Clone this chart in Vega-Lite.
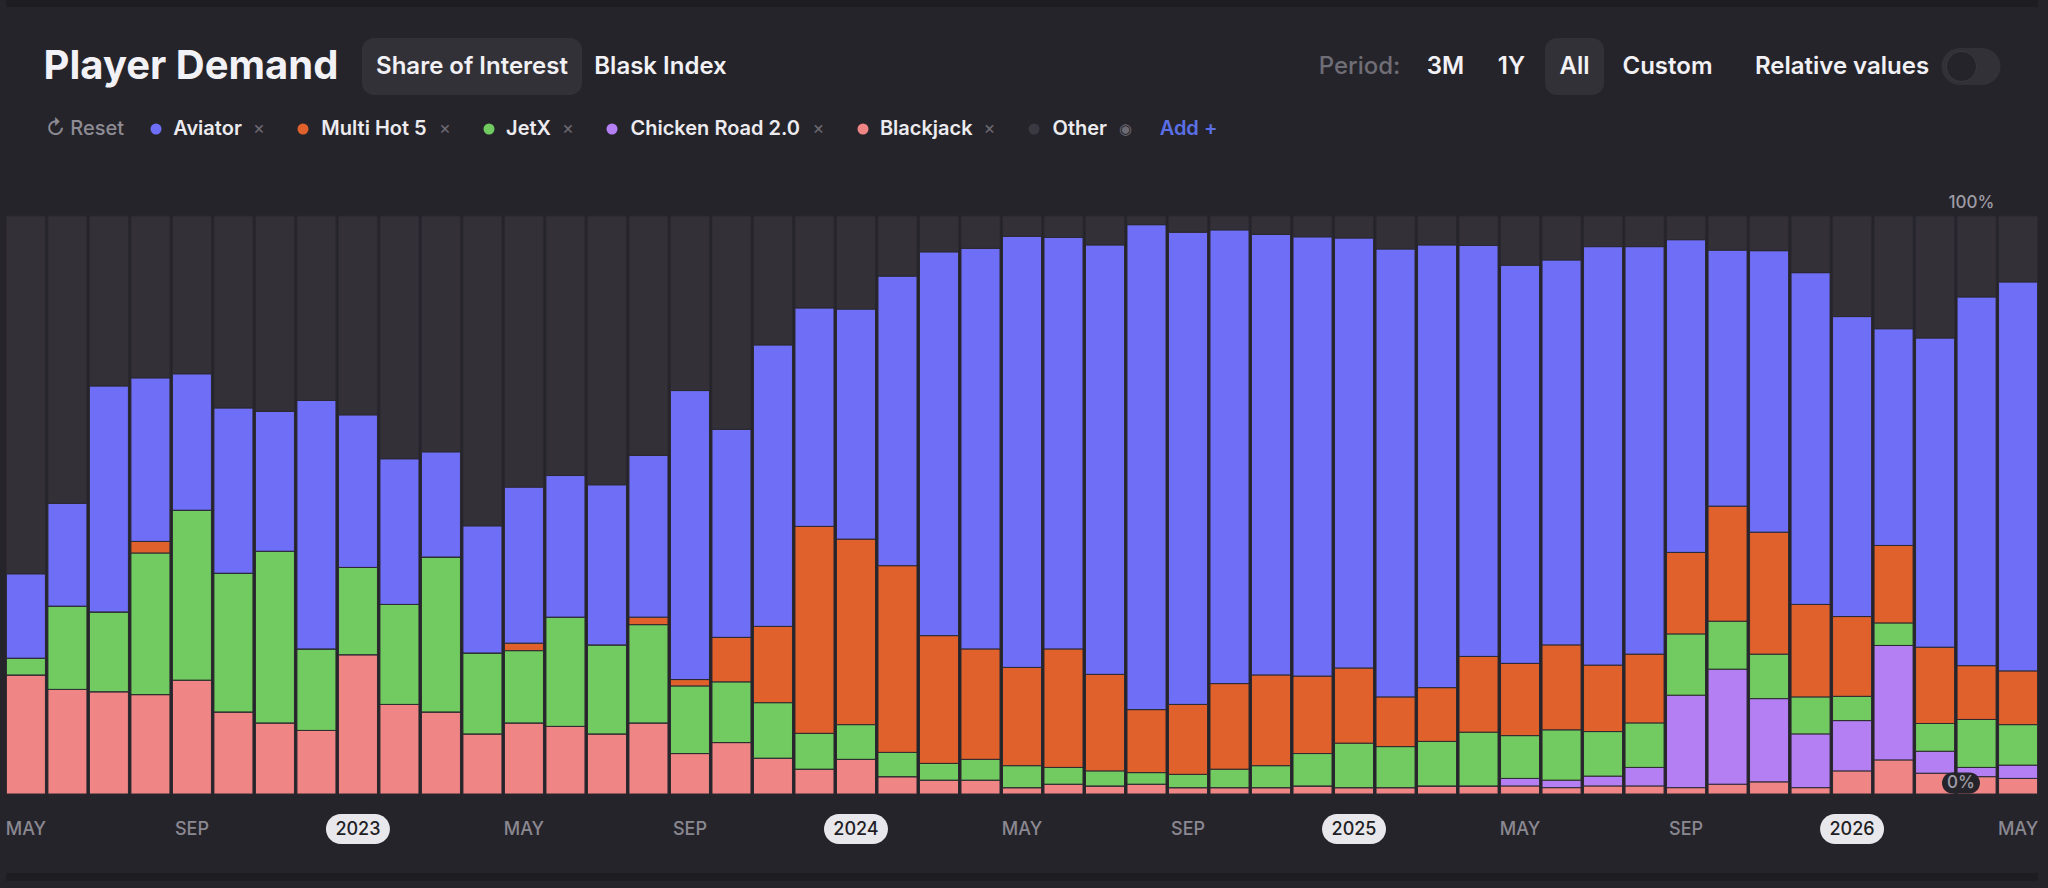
{
  "$schema": "https://vega.github.io/schema/vega-lite/v6.json",
  "background": "#26242b",
  "padding": {"left": 5, "top": 0, "right": 11, "bottom": 0},
  "spacing": 0,
  "config": {
    "view": {"stroke": null},
    "font": "Inter",
    "text": {"font": "Inter", "baseline": "middle", "align": "center"}
  },
  "datasets": {
    "share": [
      {"m": "2022-05", "Blackjack": 20.6, "Chicken Road 2.0": 0, "JetX": 2.9, "Multi Hot 5": 0, "Aviator": 14.6, "Other": 61.9},
      {"m": "2022-06", "Blackjack": 18.1, "Chicken Road 2.0": 0, "JetX": 14.4, "Multi Hot 5": 0, "Aviator": 17.8, "Other": 49.7},
      {"m": "2022-07", "Blackjack": 17.7, "Chicken Road 2.0": 0, "JetX": 13.8, "Multi Hot 5": 0, "Aviator": 39.1, "Other": 29.4},
      {"m": "2022-08", "Blackjack": 17.2, "Chicken Road 2.0": 0, "JetX": 24.5, "Multi Hot 5": 2.0, "Aviator": 28.3, "Other": 28.0},
      {"m": "2022-09", "Blackjack": 19.7, "Chicken Road 2.0": 0, "JetX": 29.4, "Multi Hot 5": 0, "Aviator": 23.6, "Other": 27.3},
      {"m": "2022-10", "Blackjack": 14.2, "Chicken Road 2.0": 0, "JetX": 24.0, "Multi Hot 5": 0, "Aviator": 28.6, "Other": 33.2},
      {"m": "2022-11", "Blackjack": 12.3, "Chicken Road 2.0": 0, "JetX": 29.7, "Multi Hot 5": 0, "Aviator": 24.2, "Other": 33.8},
      {"m": "2022-12", "Blackjack": 11.0, "Chicken Road 2.0": 0, "JetX": 14.1, "Multi Hot 5": 0, "Aviator": 43.0, "Other": 31.9},
      {"m": "2023-01", "Blackjack": 24.1, "Chicken Road 2.0": 0, "JetX": 15.1, "Multi Hot 5": 0, "Aviator": 26.4, "Other": 34.4},
      {"m": "2023-02", "Blackjack": 15.5, "Chicken Road 2.0": 0, "JetX": 17.3, "Multi Hot 5": 0, "Aviator": 25.2, "Other": 42.0},
      {"m": "2023-03", "Blackjack": 14.2, "Chicken Road 2.0": 0, "JetX": 26.8, "Multi Hot 5": 0, "Aviator": 18.2, "Other": 40.8},
      {"m": "2023-04", "Blackjack": 10.4, "Chicken Road 2.0": 0, "JetX": 14.0, "Multi Hot 5": 0, "Aviator": 22.0, "Other": 53.6},
      {"m": "2023-05", "Blackjack": 12.3, "Chicken Road 2.0": 0, "JetX": 12.5, "Multi Hot 5": 1.3, "Aviator": 27.0, "Other": 46.9},
      {"m": "2023-06", "Blackjack": 11.7, "Chicken Road 2.0": 0, "JetX": 18.9, "Multi Hot 5": 0, "Aviator": 24.5, "Other": 44.9},
      {"m": "2023-07", "Blackjack": 10.4, "Chicken Road 2.0": 0, "JetX": 15.4, "Multi Hot 5": 0, "Aviator": 27.7, "Other": 46.5},
      {"m": "2023-08", "Blackjack": 12.3, "Chicken Road 2.0": 0, "JetX": 17.0, "Multi Hot 5": 1.3, "Aviator": 28.0, "Other": 41.4},
      {"m": "2023-09", "Blackjack": 7.0, "Chicken Road 2.0": 0, "JetX": 11.7, "Multi Hot 5": 1.1, "Aviator": 50.0, "Other": 30.2},
      {"m": "2023-10", "Blackjack": 8.9, "Chicken Road 2.0": 0, "JetX": 10.5, "Multi Hot 5": 7.7, "Aviator": 36.0, "Other": 36.9},
      {"m": "2023-11", "Blackjack": 6.2, "Chicken Road 2.0": 0, "JetX": 9.6, "Multi Hot 5": 13.2, "Aviator": 48.7, "Other": 22.3},
      {"m": "2023-12", "Blackjack": 4.3, "Chicken Road 2.0": 0, "JetX": 6.2, "Multi Hot 5": 35.8, "Aviator": 37.8, "Other": 15.9},
      {"m": "2024-01", "Blackjack": 6.0, "Chicken Road 2.0": 0, "JetX": 6.0, "Multi Hot 5": 32.1, "Aviator": 39.8, "Other": 16.1},
      {"m": "2024-02", "Blackjack": 3.0, "Chicken Road 2.0": 0, "JetX": 4.2, "Multi Hot 5": 32.3, "Aviator": 50.1, "Other": 10.4},
      {"m": "2024-03", "Blackjack": 2.4, "Chicken Road 2.0": 0, "JetX": 2.9, "Multi Hot 5": 22.1, "Aviator": 66.4, "Other": 6.2},
      {"m": "2024-04", "Blackjack": 2.4, "Chicken Road 2.0": 0, "JetX": 3.6, "Multi Hot 5": 19.1, "Aviator": 69.3, "Other": 5.6},
      {"m": "2024-05", "Blackjack": 1.1, "Chicken Road 2.0": 0, "JetX": 3.8, "Multi Hot 5": 17.0, "Aviator": 74.6, "Other": 3.5},
      {"m": "2024-06", "Blackjack": 1.7, "Chicken Road 2.0": 0, "JetX": 2.9, "Multi Hot 5": 20.5, "Aviator": 71.2, "Other": 3.7},
      {"m": "2024-07", "Blackjack": 1.4, "Chicken Road 2.0": 0, "JetX": 2.6, "Multi Hot 5": 16.7, "Aviator": 74.3, "Other": 5.0},
      {"m": "2024-08", "Blackjack": 1.7, "Chicken Road 2.0": 0, "JetX": 2.0, "Multi Hot 5": 10.9, "Aviator": 83.9, "Other": 1.5},
      {"m": "2024-09", "Blackjack": 1.1, "Chicken Road 2.0": 0, "JetX": 2.3, "Multi Hot 5": 12.1, "Aviator": 81.7, "Other": 2.8},
      {"m": "2024-10", "Blackjack": 1.1, "Chicken Road 2.0": 0, "JetX": 3.2, "Multi Hot 5": 14.8, "Aviator": 78.5, "Other": 2.4},
      {"m": "2024-11", "Blackjack": 1.1, "Chicken Road 2.0": 0, "JetX": 3.8, "Multi Hot 5": 15.7, "Aviator": 76.2, "Other": 3.2},
      {"m": "2024-12", "Blackjack": 1.4, "Chicken Road 2.0": 0, "JetX": 5.6, "Multi Hot 5": 13.4, "Aviator": 76.0, "Other": 3.6},
      {"m": "2025-01", "Blackjack": 1.1, "Chicken Road 2.0": 0, "JetX": 7.7, "Multi Hot 5": 13.0, "Aviator": 74.4, "Other": 3.8},
      {"m": "2025-02", "Blackjack": 1.1, "Chicken Road 2.0": 0, "JetX": 7.1, "Multi Hot 5": 8.6, "Aviator": 77.5, "Other": 5.7},
      {"m": "2025-03", "Blackjack": 1.4, "Chicken Road 2.0": 0, "JetX": 7.7, "Multi Hot 5": 9.3, "Aviator": 76.6, "Other": 5.0},
      {"m": "2025-04", "Blackjack": 1.4, "Chicken Road 2.0": 0, "JetX": 9.3, "Multi Hot 5": 13.1, "Aviator": 71.1, "Other": 5.1},
      {"m": "2025-05", "Blackjack": 1.4, "Chicken Road 2.0": 1.3, "JetX": 7.4, "Multi Hot 5": 12.5, "Aviator": 68.9, "Other": 8.5},
      {"m": "2025-06", "Blackjack": 1.1, "Chicken Road 2.0": 1.3, "JetX": 8.7, "Multi Hot 5": 14.7, "Aviator": 66.6, "Other": 7.6},
      {"m": "2025-07", "Blackjack": 1.4, "Chicken Road 2.0": 1.7, "JetX": 7.7, "Multi Hot 5": 11.5, "Aviator": 72.4, "Other": 5.3},
      {"m": "2025-08", "Blackjack": 1.4, "Chicken Road 2.0": 3.2, "JetX": 7.7, "Multi Hot 5": 11.9, "Aviator": 70.5, "Other": 5.3},
      {"m": "2025-09", "Blackjack": 1.1, "Chicken Road 2.0": 16.0, "JetX": 10.6, "Multi Hot 5": 14.1, "Aviator": 54.1, "Other": 4.1},
      {"m": "2025-10", "Blackjack": 1.7, "Chicken Road 2.0": 19.9, "JetX": 8.3, "Multi Hot 5": 19.9, "Aviator": 44.3, "Other": 5.9},
      {"m": "2025-11", "Blackjack": 2.1, "Chicken Road 2.0": 14.4, "JetX": 7.7, "Multi Hot 5": 21.1, "Aviator": 48.7, "Other": 6.0},
      {"m": "2025-12", "Blackjack": 1.1, "Chicken Road 2.0": 9.3, "JetX": 6.4, "Multi Hot 5": 16.0, "Aviator": 57.4, "Other": 9.8},
      {"m": "2026-01", "Blackjack": 4.0, "Chicken Road 2.0": 8.7, "JetX": 4.2, "Multi Hot 5": 13.8, "Aviator": 51.9, "Other": 17.4},
      {"m": "2026-02", "Blackjack": 5.9, "Chicken Road 2.0": 19.8, "JetX": 3.9, "Multi Hot 5": 13.4, "Aviator": 37.5, "Other": 19.5},
      {"m": "2026-03", "Blackjack": 3.6, "Chicken Road 2.0": 3.8, "JetX": 4.8, "Multi Hot 5": 13.2, "Aviator": 53.5, "Other": 21.1},
      {"m": "2026-04", "Blackjack": 3.0, "Chicken Road 2.0": 1.6, "JetX": 8.3, "Multi Hot 5": 9.3, "Aviator": 63.8, "Other": 14.0},
      {"m": "2026-05", "Blackjack": 2.7, "Chicken Road 2.0": 2.3, "JetX": 7.0, "Multi Hot 5": 9.3, "Aviator": 67.3, "Other": 11.4}
    ]
  },
  "vconcat": [
    {"width": 2032, "height": 7, "view": {"fill": "#1e1d22", "stroke": null}, "data": {"values": []}, "mark": "text"},
    {"width": 10, "height": 31, "data": {"values": []}, "mark": "text"},
    {
      "hconcat": [
        {"width": 38, "height": 57, "data": {"values": []}, "mark": "text"},
        {"width": 294, "height": 57, "data": {"values": [{}]}, "mark": {"type": "text", "text": "Player Demand", "fontSize": 40, "fontWeight": 700, "color": "#f2f1f5"}},
        {"width": 24, "height": 57, "data": {"values": []}, "mark": "text"},
        {"width": 220, "height": 57, "view": {"fill": "#333138", "cornerRadius": 12, "stroke": null}, "data": {"values": [{}]}, "mark": {"type": "text", "text": "Share of Interest", "fontSize": 24, "fontWeight": 600, "color": "#f2f1f5"}},
        {"width": 13, "height": 57, "data": {"values": []}, "mark": "text"},
        {"width": 131, "height": 57, "data": {"values": [{}]}, "mark": {"type": "text", "text": "Blask Index", "fontSize": 24, "fontWeight": 600, "color": "#f2f1f5"}},
        {"width": 594, "height": 57, "data": {"values": []}, "mark": "text"},
        {"width": 79, "height": 57, "data": {"values": [{}]}, "mark": {"type": "text", "text": "Period:", "fontSize": 24, "fontWeight": 500, "color": "#6f6d75"}},
        {"width": 28, "height": 57, "data": {"values": []}, "mark": "text"},
        {"width": 37, "height": 57, "data": {"values": [{}]}, "mark": {"type": "text", "text": "3M", "fontSize": 24, "fontWeight": 600, "color": "#f2f1f5"}},
        {"width": 36, "height": 57, "data": {"values": []}, "mark": "text"},
        {"width": 23, "height": 57, "data": {"values": [{}]}, "mark": {"type": "text", "text": "1Y", "fontSize": 24, "fontWeight": 600, "color": "#f2f1f5"}},
        {"width": 22, "height": 57, "data": {"values": []}, "mark": "text"},
        {"width": 59, "height": 57, "view": {"fill": "#333138", "cornerRadius": 12, "stroke": null}, "data": {"values": [{}]}, "mark": {"type": "text", "text": "All", "fontSize": 24, "fontWeight": 600, "color": "#f2f1f5"}},
        {"width": 19, "height": 57, "data": {"values": []}, "mark": "text"},
        {"width": 89, "height": 57, "data": {"values": [{}]}, "mark": {"type": "text", "text": "Custom", "fontSize": 24, "fontWeight": 600, "color": "#f2f1f5"}},
        {"width": 44, "height": 57, "data": {"values": []}, "mark": "text"},
        {"width": 172, "height": 57, "data": {"values": [{}]}, "mark": {"type": "text", "text": "Relative values", "fontSize": 24, "fontWeight": 600, "color": "#f2f1f5"}},
        {"width": 13, "height": 57, "data": {"values": []}, "mark": "text"},
        {
          "width": 60, "height": 57, "data": {"values": [{}]},
          "layer": [
            {"mark": {"type": "point", "shape": "M-0.367,-0.617 L0.367,-0.617 A0.617,0.617 0 0 1 0.367,0.617 L-0.367,0.617 A0.617,0.617 0 0 1 -0.367,-0.617 Z", "size": 3600, "filled": true, "fill": "#333138", "opacity": 1, "strokeWidth": 0}},
            {"mark": {"type": "point", "shape": "M-0.817,0 A0.5,0.5 0 1 0 0.183,0 A0.5,0.5 0 1 0 -0.817,0 Z", "size": 3600, "filled": true, "fill": "#26242b", "opacity": 1, "stroke": "#3a3840", "strokeWidth": 1}}
          ]
        }
      ],
      "spacing": 0,
      "bounds": "flush"
    },
    {
      "hconcat": [
        {"width": 39, "height": 68, "data": {"values": []}, "mark": "text"},
        {"width": 80, "height": 68, "data": {"values": [{}]}, "mark": {"type": "text", "text": "↻ Reset", "fontSize": 20, "fontWeight": 500, "color": "#8e8c94"}},
        {"width": 31, "height": 68, "data": {"values": []}, "mark": "text"},
        {
          "width": 103, "height": 68, "data": {"values": [{}]},
          "layer": [
            {"mark": {"type": "circle", "size": 121, "color": "#6e6ef6", "opacity": 1}, "encoding": {"x": {"datum": "dot", "type": "nominal", "scale": {"type": "point", "domain": ["dot", "label", "x"], "padding": 0}, "axis": null}}},
            {"mark": {"type": "text", "text": "Aviator", "fontSize": 20, "fontWeight": 600, "color": "#ecebef"}, "encoding": {"x": {"datum": "label", "type": "nominal"}}},
            {"mark": {"type": "text", "text": "×", "fontSize": 18, "color": "#6c6a72"}, "encoding": {"x": {"datum": "x", "type": "nominal"}}}
          ]
        },
        {"width": 44, "height": 68, "data": {"values": []}, "mark": "text"},
        {
          "width": 142, "height": 68, "data": {"values": [{}]},
          "layer": [
            {"mark": {"type": "circle", "size": 121, "color": "#e0612b", "opacity": 1}, "encoding": {"x": {"datum": "dot", "type": "nominal", "scale": {"type": "point", "domain": ["dot", "label", "x"], "padding": 0}, "axis": null}}},
            {"mark": {"type": "text", "text": "Multi Hot 5", "fontSize": 20, "fontWeight": 600, "color": "#ecebef"}, "encoding": {"x": {"datum": "label", "type": "nominal"}}},
            {"mark": {"type": "text", "text": "×", "fontSize": 18, "color": "#6c6a72"}, "encoding": {"x": {"datum": "x", "type": "nominal"}}}
          ]
        },
        {"width": 44, "height": 68, "data": {"values": []}, "mark": "text"},
        {
          "width": 79, "height": 68, "data": {"values": [{}]},
          "layer": [
            {"mark": {"type": "circle", "size": 121, "color": "#72cb60", "opacity": 1}, "encoding": {"x": {"datum": "dot", "type": "nominal", "scale": {"type": "point", "domain": ["dot", "label", "x"], "padding": 0}, "axis": null}}},
            {"mark": {"type": "text", "text": "JetX", "fontSize": 20, "fontWeight": 600, "color": "#ecebef"}, "encoding": {"x": {"datum": "label", "type": "nominal"}}},
            {"mark": {"type": "text", "text": "×", "fontSize": 18, "color": "#6c6a72"}, "encoding": {"x": {"datum": "x", "type": "nominal"}}}
          ]
        },
        {"width": 44, "height": 68, "data": {"values": []}, "mark": "text"},
        {
          "width": 206.5, "height": 68, "data": {"values": [{}]},
          "layer": [
            {"mark": {"type": "circle", "size": 121, "color": "#b57ff4", "opacity": 1}, "encoding": {"x": {"datum": "dot", "type": "nominal", "scale": {"type": "point", "domain": ["dot", "label", "x"], "padding": 0}, "axis": null}}},
            {"mark": {"type": "text", "text": "Chicken Road 2.0", "fontSize": 20, "fontWeight": 600, "color": "#ecebef"}, "encoding": {"x": {"datum": "label", "type": "nominal"}}},
            {"mark": {"type": "text", "text": "×", "fontSize": 18, "color": "#6c6a72"}, "encoding": {"x": {"datum": "x", "type": "nominal"}}}
          ]
        },
        {"width": 44, "height": 68, "data": {"values": []}, "mark": "text"},
        {
          "width": 126.5, "height": 68, "data": {"values": [{}]},
          "layer": [
            {"mark": {"type": "circle", "size": 121, "color": "#ef8585", "opacity": 1}, "encoding": {"x": {"datum": "dot", "type": "nominal", "scale": {"type": "point", "domain": ["dot", "label", "x"], "padding": 0}, "axis": null}}},
            {"mark": {"type": "text", "text": "Blackjack", "fontSize": 20, "fontWeight": 600, "color": "#ecebef"}, "encoding": {"x": {"datum": "label", "type": "nominal"}}},
            {"mark": {"type": "text", "text": "×", "fontSize": 18, "color": "#6c6a72"}, "encoding": {"x": {"datum": "x", "type": "nominal"}}}
          ]
        },
        {"width": 44, "height": 68, "data": {"values": []}, "mark": "text"},
        {
          "width": 91.5, "height": 68, "data": {"values": [{}]},
          "layer": [
            {"mark": {"type": "circle", "size": 121, "color": "#3a3840", "opacity": 1}, "encoding": {"x": {"datum": "dot", "type": "nominal", "scale": {"type": "point", "domain": ["dot", "label", "x"], "padding": 0}, "axis": null}}},
            {"mark": {"type": "text", "text": "Other", "fontSize": 20, "fontWeight": 600, "color": "#ecebef"}, "encoding": {"x": {"datum": "label", "type": "nominal"}}},
            {"mark": {"type": "text", "text": "◉", "fontSize": 15, "color": "#6c6a72"}, "encoding": {"x": {"datum": "x", "type": "nominal"}}}
          ]
        },
        {"width": 32.5, "height": 68, "data": {"values": []}, "mark": "text"},
        {"width": 59, "height": 68, "data": {"values": [{}]}, "mark": {"type": "text", "text": "Add +", "fontSize": 20, "fontWeight": 600, "color": "#5b70e6"}}
      ],
      "spacing": 0,
      "bounds": "flush"
    },
    {"width": 10, "height": 31, "data": {"values": []}, "mark": "text"},
    {
      "width": 2032,
      "height": 578,
      "data": {"name": "share"},
      "layer": [
        {
          "transform": [
            {"fold": ["Blackjack", "Chicken Road 2\\.0", "JetX", "Multi Hot 5", "Aviator", "Other"], "as": ["series", "pct"]},
            {"calculate": "indexof(['Blackjack', 'Chicken Road 2.0', 'JetX', 'Multi Hot 5', 'Aviator', 'Other'], datum.series)", "as": "stackRank"}
          ],
          "mark": {"type": "bar", "stroke": "#2b2930", "strokeWidth": 1},
          "encoding": {
            "x": {
              "field": "m",
              "type": "ordinal",
              "scale": {"paddingInner": 0.06, "paddingOuter": 0.01},
              "axis": {
                "title": null,
                "domain": false,
                "ticks": false,
                "grid": false,
                "labelAngle": 0,
                "labelPadding": 35,
                "labelBaseline": "middle",
                "labelFont": "Inter",
                "labelFontSize": 18,
                "labelFontWeight": 500,
                "labelOverlap": false,
                "zindex": 1,
                "labelExpr": "substring(datum.value, 5) == '01' ? substring(datum.value, 0, 4) : substring(datum.value, 5) == '05' ? 'MAY' : substring(datum.value, 5) == '09' ? 'SEP' : ''",
                "labelColor": {"condition": {"test": "substring(datum.value, 5) == '01'", "value": "#1f1e24"}, "value": "#8a8891"}
              }
            },
            "y": {"field": "pct", "type": "quantitative", "stack": "zero", "scale": {"domain": [0, 100], "nice": false}, "axis": null},
            "color": {
              "field": "series",
              "type": "nominal",
              "scale": {
                "domain": ["Aviator", "Multi Hot 5", "JetX", "Chicken Road 2.0", "Blackjack", "Other"],
                "range": ["#6e6ef6", "#e0612b", "#72cb60", "#b57ff4", "#ef8585", "#333038"]
              },
              "legend": null
            },
            "order": {"field": "stackRank", "type": "quantitative", "sort": "ascending"}
          }
        },
        {
          "transform": [{"filter": "substring(datum.m, 5) == '01'"}],
          "mark": {"type": "point", "shape": "M-0.531,-0.469 L0.531,-0.469 A0.469,0.469 0 0 1 0.531,0.469 L-0.531,0.469 A0.469,0.469 0 0 1 -0.531,-0.469 Z", "size": 4096, "filled": true, "fill": "#e8e7ec", "opacity": 1, "strokeWidth": 0},
          "encoding": {
            "x": {"field": "m", "type": "ordinal"},
            "y": {"datum": -6.06, "type": "quantitative", "scale": {"domain": [0, 100], "nice": false}}
          }
        },
        {
          "data": {"values": [{}]},
          "mark": {"type": "text", "text": "100%", "fontSize": 17, "fontWeight": 500, "color": "#9d9ba3"},
          "encoding": {
            "x": {"datum": "2026-04", "type": "ordinal", "bandPosition": 0.37},
            "y": {"datum": 102.2, "type": "quantitative", "scale": {"domain": [0, 100], "nice": false}}
          }
        },
        {
          "data": {"values": [{}]},
          "mark": {"type": "point", "shape": "M-0.447,-0.553 L0.447,-0.553 A0.553,0.553 0 0 1 0.447,0.553 L-0.447,0.553 A0.553,0.553 0 0 1 -0.447,-0.553 Z", "size": 1444, "filled": true, "fill": "#26242b", "opacity": 1, "strokeWidth": 0},
          "encoding": {
            "x": {"datum": "2026-04", "type": "ordinal", "bandPosition": 0.1},
            "y": {"datum": 1.9, "type": "quantitative", "scale": {"domain": [0, 100], "nice": false}}
          }
        },
        {
          "data": {"values": [{}]},
          "mark": {"type": "text", "text": "0%", "fontSize": 17, "fontWeight": 500, "color": "#a09ea6"},
          "encoding": {
            "x": {"datum": "2026-04", "type": "ordinal", "bandPosition": 0.1},
            "y": {"datum": 1.9, "type": "quantitative", "scale": {"domain": [0, 100], "nice": false}}
          }
        }
      ]
    },
    {"width": 10, "height": 28, "data": {"values": []}, "mark": "text"},
    {"width": 2032, "height": 8, "view": {"fill": "#1e1d22", "stroke": null}, "data": {"values": []}, "mark": "text"},
    {"width": 2032, "height": 8, "data": {"values": []}, "mark": "text"}
  ]
}
